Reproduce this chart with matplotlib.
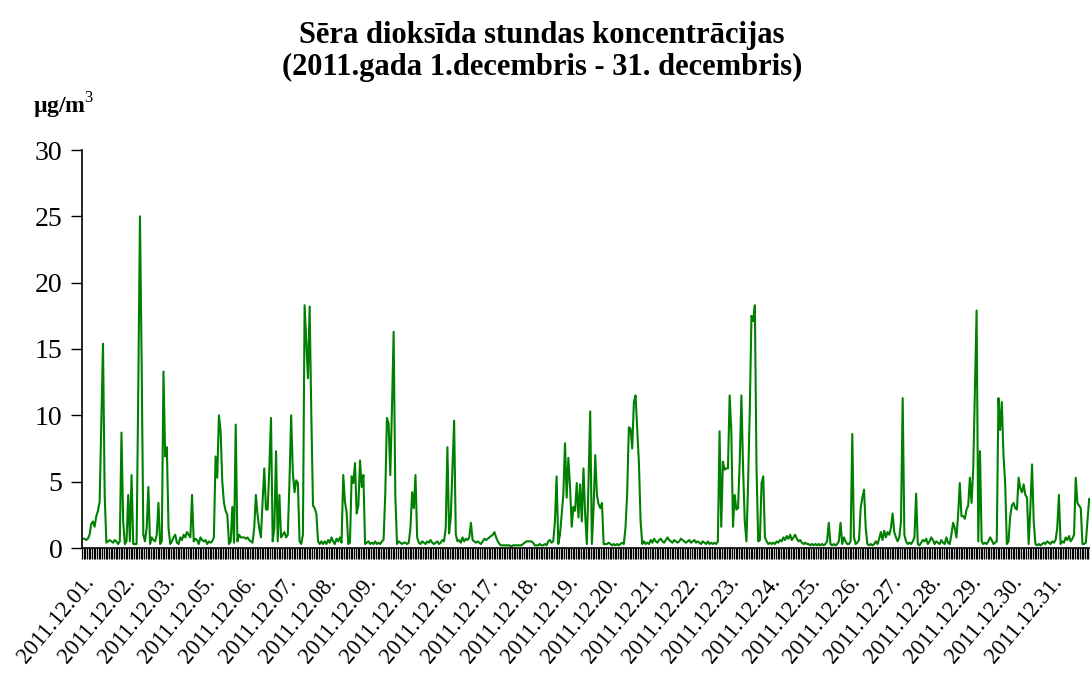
import numpy as np
import matplotlib
matplotlib.use("Agg")
import matplotlib.pyplot as plt
from matplotlib.transforms import ScaledTranslation

# --- Data: hourly SO2 values, one list of 24 per day shown ---
DAY_LABELS = ["2011.12.01.", "2011.12.02.", "2011.12.03.", "2011.12.05.", "2011.12.06.",
              "2011.12.07.", "2011.12.08.", "2011.12.09.", "2011.12.15.", "2011.12.16.",
              "2011.12.17.", "2011.12.18.", "2011.12.19.", "2011.12.20.", "2011.12.21.",
              "2011.12.22.", "2011.12.23.", "2011.12.24.", "2011.12.25.", "2011.12.26.",
              "2011.12.27.", "2011.12.28.", "2011.12.29.", "2011.12.30.", "2011.12.31."]

day_01 = [0.7, 0.7, 0.6, 0.7, 1.0, 1.8, 2.0, 1.6, 2.4, 2.8, 3.5, 9.5,
          15.4, 4.0, 0.4, 0.5, 0.6, 0.5, 0.4, 0.6, 0.5, 0.3, 0.5, 8.7]
day_02 = [2.0, 0.3, 0.5, 4.0, 0.5, 5.5, 0.3, 0.3, 0.3, 12.0, 25.0, 14.0,
          1.0, 0.5, 1.5, 4.6, 0.3, 0.8, 0.6, 0.5, 1.0, 3.4, 0.3, 0.5]
day_03 = [13.3, 6.9, 7.6, 1.5, 0.3, 0.5, 0.8, 1.0, 0.4, 0.3, 0.8, 0.6,
          1.0, 0.8, 1.2, 1.0, 0.8, 4.0, 0.5, 0.7, 0.6, 0.3, 0.8, 0.6]
day_05 = [0.5, 0.6, 0.3, 0.5, 0.4, 0.5, 0.8, 6.9, 5.3, 10.0, 8.8, 5.0,
          3.4, 2.8, 2.5, 0.3, 0.5, 3.1, 0.4, 9.3, 0.5, 1.0, 0.8, 0.8]
day_06 = [0.8, 0.7, 0.8, 0.6, 0.5, 0.4, 1.5, 4.0, 2.5, 1.5, 0.8, 3.5,
          6.0, 2.9, 2.9, 6.0, 9.8, 0.5, 1.5, 7.3, 0.5, 4.0, 0.8, 1.0]
day_07 = [1.2, 0.8, 1.0, 5.0, 10.0, 5.7, 4.2, 5.1, 4.9, 0.5, 0.3, 1.0,
          18.3, 15.5, 12.8, 18.2, 10.0, 3.2, 3.0, 2.6, 0.5, 0.3, 0.5, 0.3]
day_08 = [0.5, 0.3, 0.6, 0.4, 0.8, 0.5, 0.3, 0.7, 0.5, 0.8, 0.4, 5.5,
          3.5, 2.7, 0.3, 0.4, 5.4, 4.9, 6.4, 2.6, 3.2, 6.6, 4.6, 5.5]
day_09 = [0.3, 0.4, 0.5, 0.3, 0.4, 0.3, 0.5, 0.3, 0.4, 0.3, 0.5, 0.6,
          4.0, 9.8, 9.4, 5.5, 10.5, 16.3, 4.0, 0.3, 0.5, 0.4, 0.3, 0.4]
day_15 = [0.4, 0.3, 0.4, 1.5, 4.2, 3.0, 5.5, 0.8, 0.4, 0.3, 0.5, 0.4,
          0.3, 0.5, 0.4, 0.6, 0.4, 0.3, 0.4, 0.5, 0.3, 0.4, 0.6, 0.5]
day_16 = [1.5, 7.6, 1.1, 2.3, 6.0, 9.6, 1.0, 0.5, 0.6, 0.4, 0.8, 0.5,
          0.7, 0.6, 0.8, 1.9, 0.6, 0.5, 0.4, 0.5, 0.4, 0.3, 0.5, 0.7]
day_17 = [0.6, 0.7, 0.8, 0.9, 1.0, 1.2, 0.8, 0.5, 0.3, 0.2, 0.2, 0.2,
          0.2, 0.2, 0.2, 0.1, 0.2, 0.2, 0.2, 0.2, 0.2, 0.2, 0.3, 0.4]
day_18 = [0.5, 0.5, 0.5, 0.5, 0.4, 0.2, 0.2, 0.2, 0.3, 0.2, 0.2, 0.3,
          0.2, 0.5, 0.6, 0.4, 0.5, 2.0, 5.4, 0.3, 1.0, 2.5, 4.0, 7.9]
day_19 = [3.8, 6.8, 4.6, 1.6, 3.1, 2.8, 4.9, 2.3, 4.8, 2.0, 6.0, 2.5,
          0.3, 5.0, 10.3, 0.3, 3.0, 7.0, 4.0, 3.3, 3.0, 3.4, 0.3, 0.3]
day_20 = [0.3, 0.4, 0.3, 0.2, 0.3, 0.2, 0.3, 0.2, 0.3, 0.4, 0.3, 1.5,
          4.1, 9.1, 9.0, 7.5, 11.0, 11.5, 9.0, 6.4, 2.0, 0.3, 0.5, 0.3]
day_21 = [0.4, 0.3, 0.6, 0.4, 0.7, 0.5, 0.4, 0.6, 0.7, 0.5, 0.4, 0.6,
          0.8, 0.6, 0.5, 0.4, 0.6, 0.5, 0.4, 0.5, 0.7, 0.6, 0.5, 0.4]
day_22 = [0.5, 0.6, 0.4, 0.5, 0.6, 0.4, 0.5, 0.4, 0.3, 0.5, 0.4, 0.3,
          0.5, 0.3, 0.4, 0.3, 0.4, 0.3, 0.5, 8.8, 1.6, 6.5, 5.9, 6.0]
day_23 = [6.0, 11.5, 8.8, 1.6, 4.0, 2.9, 3.0, 6.5, 11.5, 6.0, 2.0, 0.5,
          5.0, 10.5, 17.5, 17.1, 18.3, 6.0, 0.5, 0.6, 4.9, 5.4, 0.8, 0.5]
day_24 = [0.3, 0.4, 0.3, 0.4, 0.3, 0.5, 0.4, 0.6, 0.5, 0.8, 0.6, 0.9,
          0.7, 1.0, 0.6, 0.8, 1.0, 0.7, 0.5, 0.6, 0.4, 0.3, 0.4, 0.3]
day_25 = [0.3, 0.2, 0.3, 0.2, 0.3, 0.2, 0.3, 0.2, 0.3, 0.2, 0.3, 0.5,
          1.9, 0.3, 0.2, 0.3, 0.2, 0.3, 0.5, 1.9, 0.3, 0.8, 0.5, 0.3]
day_26 = [0.3, 0.5, 8.6, 0.8, 0.3, 0.4, 0.6, 3.0, 3.8, 4.4, 1.5, 0.3,
          0.2, 0.3, 0.2, 0.3, 0.5, 0.3, 0.7, 1.2, 0.6, 1.3, 0.8, 1.2]
day_27 = [1.0, 1.5, 2.6, 1.2, 0.8, 0.5, 0.8, 2.0, 11.3, 1.0, 0.5, 0.3,
          0.4, 0.3, 0.5, 0.8, 4.1, 0.3, 0.2, 0.4, 0.6, 0.5, 0.7, 0.3]
day_28 = [0.5, 0.8, 0.6, 0.3, 0.5, 0.4, 0.3, 0.6, 0.4, 0.3, 0.8, 0.4,
          0.3, 1.0, 1.9, 1.5, 0.8, 2.5, 4.9, 2.4, 2.4, 2.2, 2.9, 3.2]
day_29 = [5.3, 3.4, 6.0, 12.0, 17.9, 0.5, 7.3, 0.5, 0.3, 0.4, 0.3, 0.5,
          0.8, 0.6, 0.3, 0.4, 0.5, 11.3, 8.9, 11.0, 7.0, 4.9, 0.3, 0.5]
day_30 = [2.4, 3.2, 3.4, 3.0, 2.9, 5.3, 4.5, 4.2, 4.8, 4.0, 3.8, 0.3,
          3.0, 6.3, 2.0, 0.3, 0.2, 0.3, 0.2, 0.3, 0.4, 0.3, 0.5, 0.4]
day_31 = [0.3, 0.5, 0.4, 0.6, 1.5, 4.0, 0.3, 0.5, 0.4, 0.8, 0.6, 0.9,
          0.5, 0.7, 1.0, 5.3, 3.4, 3.2, 3.0, 0.3, 0.3, 0.4, 2.0, 3.7]

DAYS = [day_01, day_02, day_03, day_05, day_06, day_07, day_08, day_09, day_15,
        day_16, day_17, day_18, day_19, day_20, day_21, day_22, day_23, day_24,
        day_25, day_26, day_27, day_28, day_29, day_30, day_31]

TITLE = "Sēra dioksīda stundas koncentrācijas\n(2011.gada 1.decembris - 31. decembris)"
Y_UNIT = "µg/m$^3$"

values = np.concatenate([np.array(d, dtype=float) for d in DAYS])
hours = np.arange(len(values))

plt.rcParams['font.family'] = ['Liberation Serif', 'DejaVu Serif']
plt.rcParams['mathtext.fontset'] = 'custom'
plt.rcParams['mathtext.rm'] = 'Liberation Serif'
plt.rcParams['mathtext.bf'] = 'Liberation Serif:bold'

fig = plt.figure(figsize=(10.9, 6.79), dpi=100)
ax = fig.add_axes([82 / 1090, 1 - 548 / 679, 1 - 82 / 1090, 398 / 679])

ax.plot(hours, values, color='#008000', linewidth=1.5)

ax.set_xlim(-0.5, len(values) - 0.5)
ax.set_ylim(0, 30)
ax.set_yticks(np.arange(0, 31, 5))
ax.tick_params(axis='y', direction='out', length=8, width=1, labelsize=20, pad=6)

# one tick per hour, a label per day
ax.set_xticks(np.arange(0, len(values), 24))
ax.set_xticklabels(DAY_LABELS, rotation=50, ha='right', va='center',
                   rotation_mode='anchor')
ax.set_xticks(np.arange(-0.5, len(values), 1), minor=True)
ax.tick_params(axis='x', which='major', length=0, labelsize=16.5, pad=22)
ax.tick_params(axis='x', which='minor', direction='out', length=8, width=0.9)

# nudge the slanted day labels a little to the right of their hour
shift = ScaledTranslation(8 / 100, 0, fig.dpi_scale_trans)
for lab in ax.get_xticklabels():
    lab.set_transform(lab.get_transform() + shift)

for side in ['top', 'right']:
    ax.spines[side].set_visible(False)
ax.spines['left'].set_linewidth(1.2)
ax.spines['bottom'].set_linewidth(1.2)

title_lines = TITLE.split("\n")
fig.text(0.497, 1 - 36 / 679, title_lines[0], ha='center', va='center',
         fontsize=22, fontweight='bold')
fig.text(0.497, 1 - 67 / 679, title_lines[1], ha='center', va='center',
         fontsize=22, fontweight='bold')
fig.text(0.030, 1 - 106 / 679, Y_UNIT, ha='left', va='center', fontsize=17,
         fontweight='bold')

fig.savefig('out.png', dpi=100)
